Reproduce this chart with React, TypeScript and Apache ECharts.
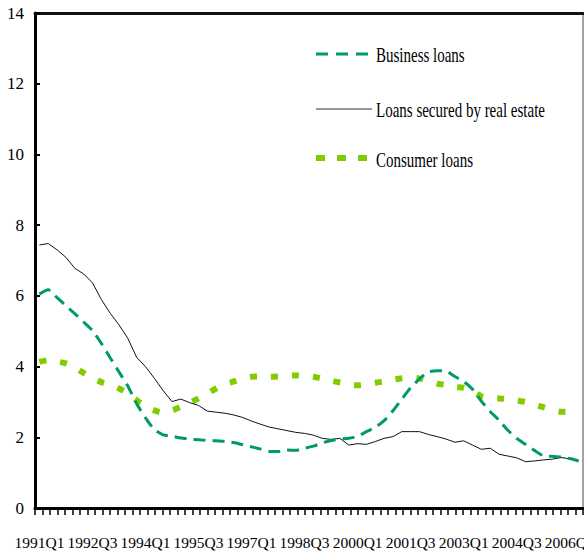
import React, { useEffect, useRef } from "react";
import * as echarts from "echarts";

const quarters = [
  "1991Q1","1991Q2","1991Q3","1991Q4","1992Q1","1992Q2","1992Q3","1992Q4",
  "1993Q1","1993Q2","1993Q3","1993Q4","1994Q1","1994Q2","1994Q3","1994Q4",
  "1995Q1","1995Q2","1995Q3","1995Q4","1996Q1","1996Q2","1996Q3","1996Q4",
  "1997Q1","1997Q2","1997Q3","1997Q4","1998Q1","1998Q2","1998Q3","1998Q4",
  "1999Q1","1999Q2","1999Q3","1999Q4","2000Q1","2000Q2","2000Q3","2000Q4",
  "2001Q1","2001Q2","2001Q3","2001Q4","2002Q1","2002Q2","2002Q3","2002Q4",
  "2003Q1","2003Q2","2003Q3","2003Q4","2004Q1","2004Q2","2004Q3","2004Q4",
  "2005Q1","2005Q2","2005Q3","2005Q4","2006Q1","2006Q2",
];

const businessLoans = [
  6.05, 6.17, 5.95, 5.72, 5.5, 5.26, 5.02, 4.66, 4.25, 3.85,
  3.45, 2.95, 2.55, 2.22, 2.07, 2.03, 1.98, 1.95, 1.93, 1.91,
  1.9, 1.89, 1.85, 1.79, 1.73, 1.67, 1.6, 1.6, 1.64, 1.63,
  1.69, 1.75, 1.84, 1.91, 1.95, 1.97, 2.03, 2.16, 2.28, 2.47,
  2.75, 3.08, 3.4, 3.65, 3.85, 3.88, 3.87, 3.72, 3.58, 3.36,
  3.02, 2.73, 2.48, 2.2, 1.97, 1.8, 1.63, 1.48, 1.46, 1.44,
  1.4, 1.33,
];

const realEstateLoans = [
  7.44, 7.48, 7.3, 7.09, 6.78, 6.62, 6.37, 5.9, 5.51, 5.18,
  4.8, 4.26, 4.0, 3.67, 3.32, 3.01, 3.08, 2.98, 2.9, 2.74,
  2.71, 2.68, 2.63, 2.56, 2.46, 2.37, 2.29, 2.24, 2.19, 2.14,
  2.11, 2.06, 1.97, 1.94, 1.97, 1.78, 1.82, 1.8, 1.88, 1.97,
  2.02, 2.16, 2.16, 2.16, 2.08, 2.02, 1.95, 1.86, 1.9, 1.78,
  1.66, 1.69, 1.52, 1.47, 1.42, 1.31, 1.33, 1.36, 1.38, 1.43,
  1.39, 1.34,
];

const consumerLoans = [
  4.13, 4.18, 4.14, 4.09, 3.97, 3.82, 3.68, 3.56, 3.48, 3.38,
  3.24, 3.05, 2.88, 2.76, 2.7, 2.76, 2.86, 2.97, 3.1, 3.24,
  3.38, 3.5, 3.58, 3.66, 3.71, 3.72, 3.71, 3.72, 3.74, 3.75,
  3.73, 3.71, 3.66, 3.6, 3.55, 3.49, 3.47, 3.5, 3.54, 3.58,
  3.63, 3.67, 3.69, 3.66, 3.6, 3.52, 3.48, 3.42, 3.4, 3.3,
  3.16, 3.11, 3.1, 3.08, 3.04, 3.0, 2.93, 2.85, 2.78, 2.72,
  2.72, 2.82,
];

const yTicks = { min: 0, max: 14, interval: 2 };
const minorTickSlots: string[] = new Array(73).fill("");

const BUSINESS_COLOR = "#009a6a";
const CONSUMER_COLOR = "#80cc00";
const REAL_ESTATE_COLOR = "#111111";
const FONT = "'Liberation Serif', 'Times New Roman', serif";

export default function App() {
  const ref = useRef<HTMLDivElement>(null);

  useEffect(() => {
    if (!ref.current) return;
    const chart = echarts.init(ref.current, undefined, { renderer: "svg" });

    const legendText = (text: string, y: number) => ({
      type: "text",
      x: 376,
      y,
      scaleY: 1.4,
      style: {
        text,
        fill: "#000",
        font: `15px ${FONT}`,
        textVerticalAlign: "middle",
        textAlign: "left",
      },
    });

    chart.setOption({
      animation: false,
      backgroundColor: "#fff",
      grid: {
        left: 35,
        right: 1,
        top: 13,
        bottom: 50,
        containLabel: false,
        outerBoundsMode: "none",
        show: true,
        borderColor: "#444",
        borderWidth: 1,
        backgroundColor: "transparent",
      },
      xAxis: [
        {
          type: "category",
          data: quarters,
          boundaryGap: true,
          position: "bottom",
          axisLine: { show: true, lineStyle: { color: "#000", width: 3 } },
          axisTick: { show: false },
          axisLabel: {
            interval: 5,
            color: "#000",
            fontSize: 15.5,
            fontFamily: FONT,
            margin: 26,
            hideOverlap: false,
          },
          splitLine: { show: false },
        },
        {
          type: "category",
          data: minorTickSlots,
          boundaryGap: true,
          position: "bottom",
          axisLine: { show: false },
          axisTick: {
            show: true,
            interval: 0,
            length: 7,
            lineStyle: { color: "#000", width: 1.5 },
          },
          axisLabel: { show: false },
          splitLine: { show: false },
        },
        {
          type: "category",
          data: minorTickSlots,
          position: "top",
          axisLine: { show: true, lineStyle: { color: "#111", width: 3 } },
          axisTick: { show: false },
          axisLabel: { show: false },
          splitLine: { show: false },
        },
      ],
      yAxis: {
        type: "value",
        min: yTicks.min,
        max: yTicks.max,
        interval: yTicks.interval,
        axisLine: { show: true, lineStyle: { color: "#000", width: 3 } },
        axisTick: {
          show: true,
          inside: true,
          length: 5,
          lineStyle: { color: "#000", width: 2 },
        },
        axisLabel: {
          color: "#000",
          fontSize: 17,
          fontFamily: FONT,
          margin: 11,
        },
        splitLine: { show: false },
      },
      graphic: [
        {
          type: "line",
          shape: { x1: 316, y1: 54, x2: 368, y2: 54 },
          style: { stroke: BUSINESS_COLOR, lineWidth: 3, lineDash: [12, 8] },
        },
        legendText("Business loans", 55),
        {
          type: "line",
          shape: { x1: 316, y1: 109, x2: 372, y2: 109 },
          style: { stroke: "#333", lineWidth: 1 },
        },
        legendText("Loans secured by real estate", 110),
        {
          type: "line",
          shape: { x1: 316, y1: 158, x2: 368, y2: 158 },
          style: { stroke: CONSUMER_COLOR, lineWidth: 6, lineDash: [9, 12] },
        },
        legendText("Consumer loans", 160),
      ],
      series: [
        {
          name: "Consumer loans",
          type: "line",
          data: consumerLoans,
          symbol: "none",
          smooth: 0.3,
          lineStyle: { color: CONSUMER_COLOR, width: 6, type: [7, 14], cap: "butt" },
          z: 2,
        },
        {
          name: "Loans secured by real estate",
          type: "line",
          data: realEstateLoans,
          symbol: "none",
          lineStyle: { color: REAL_ESTATE_COLOR, width: 1 },
          z: 3,
        },
        {
          name: "Business loans",
          type: "line",
          data: businessLoans,
          symbol: "none",
          smooth: 0.2,
          lineStyle: { color: BUSINESS_COLOR, width: 3, type: [12, 7], cap: "butt" },
          z: 4,
        },
      ],
    });

    return () => chart.dispose();
  }, []);

  return <div ref={ref} style={{ width: 584, height: 558, position: "absolute", left: 0, top: 0 }} />;
}
